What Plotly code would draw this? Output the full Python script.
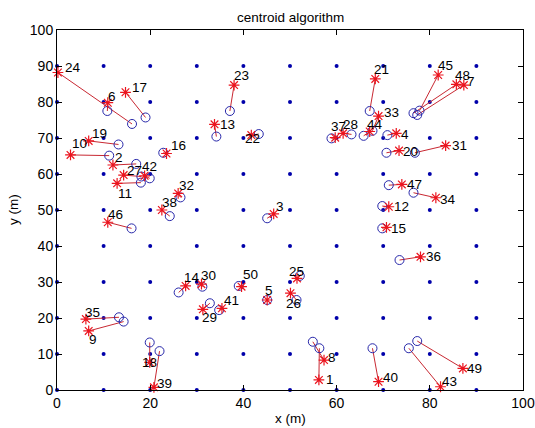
import plotly.graph_objects as go

# anchor grid coordinates
anchor_coords = [0, 10, 20, 30, 40, 50, 60, 70, 80, 90]

node_ids = list(range(1, 51))
est_x = [56.2, 12.0, 46.5, 72.8, 45.1, 10.9, 87.3, 57.3, 6.8, 2.9,
         12.9, 71.2, 33.8, 27.6, 70.7, 23.5, 14.7, 19.9, 6.8, 73.4,
         68.3, 41.7, 38.0, 0.2, 51.5, 50.1, 14.3, 61.4, 31.3, 31.0,
         83.4, 26.0, 69.0, 81.3, 6.2, 78.0, 59.7, 22.5, 20.8, 69.0,
         35.4, 18.8, 82.3, 67.1, 81.8, 10.9, 74.0, 85.7, 87.1, 39.6]
est_y = [2.8, 62.5, 48.9, 71.3, 25.0, 79.8, 84.7, 8.3, 16.4, 65.3,
         57.4, 50.9, 73.8, 28.9, 45.2, 65.7, 82.7, 7.7, 69.2, 66.5,
         86.4, 70.8, 84.7, 88.2, 31.0, 26.9, 59.7, 71.3, 22.4, 29.4,
         67.9, 54.6, 76.1, 53.4, 19.7, 37.0, 70.1, 50.0, 0.75, 2.3,
         22.7, 59.5, 0.9, 71.8, 87.5, 46.6, 57.1, 84.9, 6.0, 28.7]
true_x = [56.3, 17.0, 45.1, 70.9, 45.1, 10.8, 77.3, 54.9, 14.3, 11.2,
          18.0, 69.8, 34.2, 26.1, 69.8, 22.8, 19.0, 19.9, 13.2, 70.7,
          67.1, 43.3, 37.1, 16.1, 52.1, 51.4, 18.1, 63.2, 32.8, 31.2,
          76.8, 26.5, 67.7, 76.5, 13.3, 73.5, 58.9, 24.2, 22.0, 67.7,
          34.8, 19.9, 75.5, 65.8, 77.8, 16.0, 71.2, 76.5, 77.3, 39.0]
true_y = [11.6, 62.8, 47.7, 70.8, 25.0, 77.5, 76.4, 13.4, 19.0, 65.1,
          57.6, 51.1, 70.4, 27.1, 44.9, 65.9, 75.7, 13.2, 68.2, 65.9,
          77.5, 71.1, 77.5, 73.9, 31.7, 25.0, 59.3, 71.0, 24.1, 28.7,
          65.9, 53.5, 72.0, 54.8, 20.2, 36.1, 69.9, 48.3, 10.8, 11.6,
          22.2, 58.8, 11.6, 70.6, 77.6, 44.9, 56.9, 76.9, 13.6, 28.9]

# label offsets from the star, in screen pixels (dx right, dy down)
label_dx = [5, 0, 0, 3, -4, -2, 1, 2, -2, -1,
            -1, 3, 3, -4, 3, 2, 4, -10, 1, 2,
            -3, -8, -2, 5, -10, -6, 1, -2, -3, -2,
            4, -1, 3, 2, -3, 4, -6, -2, 1, 2,
            0, -5, -1, -5, -2, -2, 3, -3, 2, -1]
label_dy = [0, -8, -7, 1, -10, -6, -4, -3, 9, -11,
            10, 0, 0, -8, 1, -8, -5, 0, -7, 1,
            -9, 3, -10, -5, -7, 10, -5, -9, 8, -9,
            0, -8, -4, 2, -7, 0, -11, -8, -4, -4,
            -8, -9, -5, -7, -10, -8, 0, -9, 0, -12]

FONT = "Liberation Sans, Arial, Helvetica, sans-serif"

ax_list = [a for a in anchor_coords for _ in anchor_coords]
ay_list = [b for _ in anchor_coords for b in anchor_coords]

line_x, line_y = [], []
for ex, ey, tx, ty in zip(est_x, est_y, true_x, true_y):
    line_x += [ex, tx, None]
    line_y += [ey, ty, None]

fig = go.Figure()
fig.add_trace(go.Scatter(x=ax_list, y=ay_list, mode="markers",
                         marker=dict(color="rgb(0,0,170)", size=4),
                         hoverinfo="skip", cliponaxis=False))
fig.add_trace(go.Scatter(x=line_x, y=line_y, mode="lines",
                         line=dict(color="rgb(200,40,50)", width=1),
                         hoverinfo="skip"))
fig.add_trace(go.Scatter(x=true_x, y=true_y, mode="markers",
                         marker=dict(symbol="circle-open", size=9,
                                     color="rgb(40,40,170)",
                                     line=dict(width=1, color="rgb(40,40,170)"))))
fig.add_trace(go.Scatter(x=est_x, y=est_y, mode="markers", cliponaxis=False,
                         marker=dict(symbol="asterisk-open", size=9,
                                     color="rgb(235,20,30)",
                                     line=dict(width=1.2, color="rgb(235,20,30)"))))

annotations = []
for i, nid in enumerate(node_ids):
    annotations.append(dict(x=est_x[i], y=est_y[i], text=str(nid),
                            showarrow=False, xanchor="left", yanchor="middle",
                            xshift=label_dx[i], yshift=-label_dy[i],
                            font=dict(size=13.5, color="black", family=FONT)))

# title and axis titles
annotations.append(dict(xref="paper", yref="paper", x=0.5, y=1, yshift=13,
                        text="centroid algorithm", showarrow=False,
                        xanchor="center", yanchor="middle",
                        font=dict(size=13.5, color="black", family=FONT)))
annotations.append(dict(xref="paper", yref="paper", x=0.5, y=0, yshift=-28,
                        text="x (m)", showarrow=False,
                        xanchor="center", yanchor="middle",
                        font=dict(size=13.5, color="black", family=FONT)))
annotations.append(dict(xref="paper", yref="paper", x=0, y=0.5, xshift=-44,
                        text="y (m)", showarrow=False, textangle=-90,
                        xanchor="center", yanchor="middle",
                        font=dict(size=13.5, color="black", family=FONT)))

axis_common = dict(showgrid=False, zeroline=False, showline=True,
                   linecolor="black", linewidth=1, mirror="ticks",
                   ticks="inside", ticklen=5, tickcolor="black",
                   automargin=False,
                   tickfont=dict(size=14, color="black", family=FONT))

fig.update_layout(
    width=535, height=428,
    margin=dict(l=57, r=12, t=30, b=38, autoexpand=False),
    paper_bgcolor="white", plot_bgcolor="white",
    showlegend=False,
    xaxis=dict(range=[0, 100], tickvals=[0, 20, 40, 60, 80, 100], **axis_common),
    yaxis=dict(range=[0, 100], tickvals=[0, 10, 20, 30, 40, 50, 60, 70, 80, 90, 100],
               **axis_common),
    annotations=annotations,
)

fig.write_html("out.html")
